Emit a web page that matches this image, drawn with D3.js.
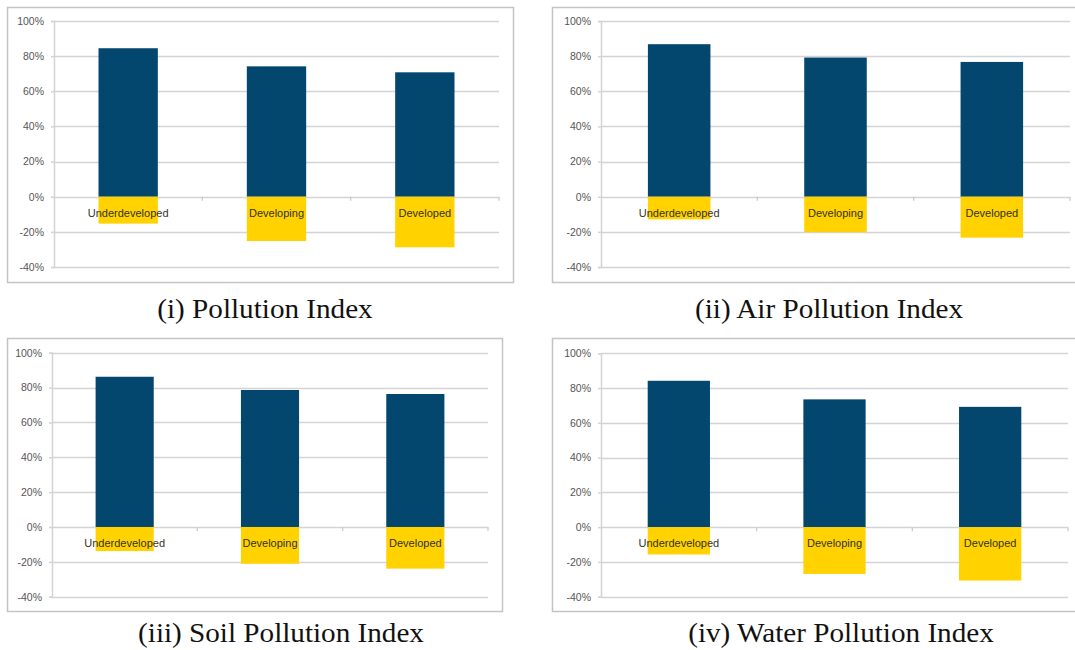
<!DOCTYPE html>
<html>
<head>
<meta charset="utf-8">
<script src="https://cdn.jsdelivr.net/npm/d3@7"></script>
<style>
  html, body { margin: 0; padding: 0; background: #ffffff; }
  svg { display: block; }
</style>
</head>
<body>
<svg id="chart" width="1075" height="650"></svg>
<script>
// ---------- data ----------
const categories = ["Underdeveloped", "Developing", "Developed"];
const yTicks = [100, 80, 60, 40, 20, 0, -20, -40];
const panelTitles = ["(i) Pollution Index", "(ii) Air Pollution Index",
                     "(iii) Soil Pollution Index", "(iv) Water Pollution Index"];
const pollutionPositive = [84.5, 74.2, 70.8];
const pollutionNegative = [-15.3, -25.2, -28.8];
const airPositive = [86.8, 79.2, 76.7];
const airNegative = [-12.9, -20.2, -23.3];
const soilPositive = [86.2, 78.6, 76.3];
const soilNegative = [-13.8, -21.1, -23.9];
const waterPositive = [84.2, 73.5, 69.2];
const waterNegative = [-15.7, -26.9, -30.7];

// ---------- layout ----------
const layouts = [
  { frame: [7, 7, 513, 282],    x: [54, 499],   y: [267, 21],    gridEnd: 499,  title: [265, 318] },
  { frame: [552, 7, 1090, 282], x: [601, 1070], y: [267, 21],    gridEnd: 1070, title: [829, 318] },
  { frame: [7, 338, 502, 611],  x: [52, 488],   y: [596.7, 352.7], gridEnd: 488, title: [281, 642] },
  { frame: [552, 338, 1090, 611], x: [601, 1068], y: [596.7, 353.3], gridEnd: 1068, title: [841, 642] }
];
const seriesPos = [pollutionPositive, airPositive, soilPositive, waterPositive];
const seriesNeg = [pollutionNegative, airNegative, soilNegative, waterNegative];

const BLUE = "#03476f";
const YELLOW = "#ffd200";
const GRID = "#d4d4d4";

const svg = d3.select("#chart");

layouts.forEach((L, i) => {
  const g = svg.append("g");
  const x = d3.scaleBand().domain(categories).range(L.x).paddingInner(0.6).paddingOuter(0.3);
  const y = d3.scaleLinear().domain([-40, 100]).range(L.y);

  // frame
  g.append("rect")
    .attr("x", L.frame[0] + 0.5).attr("y", L.frame[1] + 0.5)
    .attr("width", L.frame[2] - L.frame[0]).attr("height", L.frame[3] - L.frame[1])
    .attr("fill", "#fff").attr("stroke", "#c4c4c4").attr("stroke-width", 1.5);

  // gridlines
  g.append("g").selectAll("line").data(yTicks).join("line")
    .attr("x1", L.x[0]).attr("x2", L.gridEnd)
    .attr("y1", d => Math.round(y(d)) + 0.5).attr("y2", d => Math.round(y(d)) + 0.5)
    .attr("stroke", GRID).attr("stroke-width", 1.5);

  // y axis
  const yAxis = d3.axisLeft(y).tickValues(yTicks).tickFormat(d => d + "%").tickSize(3).tickPadding(7);
  const ya = g.append("g").attr("transform", `translate(${L.x[0]},0)`).call(yAxis);
  ya.select(".domain").attr("stroke", GRID).attr("stroke-width", 1.5);
  ya.selectAll(".tick line").attr("stroke", GRID).attr("stroke-width", 1.5);
  ya.selectAll(".tick text")
    .attr("font-family", "'Liberation Sans', Arial, sans-serif")
    .attr("font-size", 10.5).attr("fill", "#555");

  // category boundary ticks on zero line
  const bounds = x.domain().slice(1).map(c => x(c) - x.step() * x.paddingInner() / 2);
  bounds.push(L.gridEnd);
  g.append("g").selectAll("line").data(bounds).join("line")
    .attr("x1", d => d).attr("x2", d => d)
    .attr("y1", y(0)).attr("y2", y(0) + 4)
    .attr("stroke", "#c8c8c8").attr("stroke-width", 1.2);

  // bars
  const pos = seriesPos[i], neg = seriesNeg[i];
  g.append("g").selectAll("rect").data(categories).join("rect")
    .attr("x", c => x(c)).attr("width", x.bandwidth())
    .attr("y", (c, j) => y(pos[j])).attr("height", (c, j) => y(0) - y(pos[j]))
    .attr("fill", BLUE);
  g.append("g").selectAll("rect").data(categories).join("rect")
    .attr("x", c => x(c)).attr("width", x.bandwidth())
    .attr("y", y(0)).attr("height", (c, j) => y(neg[j]) - y(0))
    .attr("fill", YELLOW);

  // category labels
  g.append("g").selectAll("text").data(categories).join("text")
    .attr("x", c => x(c) + x.bandwidth() / 2)
    .attr("y", y(0) + 20)
    .attr("text-anchor", "middle")
    .attr("font-family", "'Liberation Sans', Arial, sans-serif")
    .attr("font-size", 11).attr("fill", "#33331f")
    .text(c => c);

  // panel title
  svg.append("text")
    .attr("transform", `translate(${L.title[0]},${L.title[1]}) scale(1.08,1)`)
    .attr("text-anchor", "middle")
    .attr("font-family", "'Liberation Serif', 'Times New Roman', serif")
    .attr("font-size", 27).attr("fill", "#111")
    .text(panelTitles[i]);
});
</script>
</body>
</html>
